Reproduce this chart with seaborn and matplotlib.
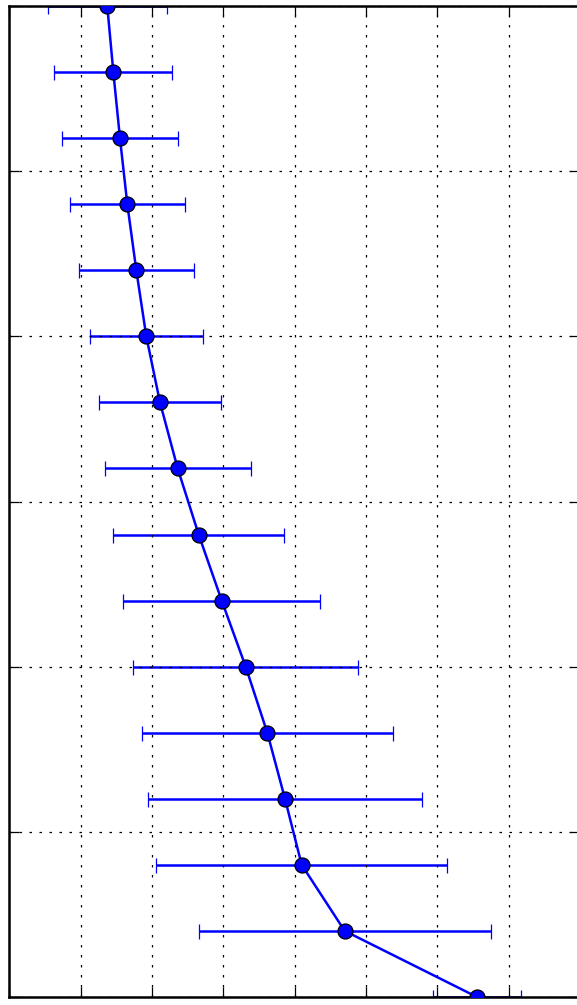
import numpy as np
import pandas as pd
import matplotlib
matplotlib.use('Agg')
import matplotlib.pyplot as plt
import seaborn as sns

# 经典 matplotlib 风格
plt.style.use('classic')

# 各层的平均值与误差
level = [0, 1, 2, 3, 4, 5, 6, 7, 8, 9, 10, 11, 12, 13, 14, 15]
mean_val = [1.373, 1.458, 1.551, 1.654, 1.780, 1.920, 2.112, 2.360,
            2.654, 2.977, 3.313, 3.616, 3.864, 4.098, 4.701, 6.555]
err_val = [0.832, 0.827, 0.817, 0.810, 0.804, 0.792, 0.860, 1.023,
           1.196, 1.383, 1.579, 1.761, 1.927, 2.037, 2.046, 0.610]
x_ticks = [0, 1, 2, 3, 4, 5, 6, 7, 8]
y_ticks = [0, 2.5, 5, 7.5, 10, 12.5, 15]

df = pd.DataFrame({'level': level, 'mean': mean_val, 'err': err_val})

fig = plt.figure(figsize=(577/180, 1005/180), dpi=180, facecolor='white')
ax = fig.add_axes([9.3/577, 8/1005, 570.8/577, 991/1005])

# 误差棒
ax.errorbar(df['mean'], df['level'], xerr=df['err'], fmt='none',
            ecolor='b', elinewidth=1, capsize=3, capthick=0.5, zorder=2)
# 折线和点
sns.lineplot(data=df, x='mean', y='level', orient='y', sort=False,
             color='b', linewidth=1, marker='o', markersize=6,
             markerfacecolor='b', markeredgecolor='k', markeredgewidth=0.5,
             ax=ax, zorder=3)

ax.set_xlim(0, 8)
ax.set_ylim(15, 0)
ax.set_xticks(x_ticks)
ax.set_yticks(y_ticks)
ax.tick_params(labelleft=False, labelbottom=False, labelright=False, labeltop=False)
ax.set_xlabel('')
ax.set_ylabel('')
ax.grid(True, color='k', linestyle=':', linewidth=0.5)
ax.set_axisbelow(False)

fig.savefig('out.png', dpi=180, facecolor='white')
